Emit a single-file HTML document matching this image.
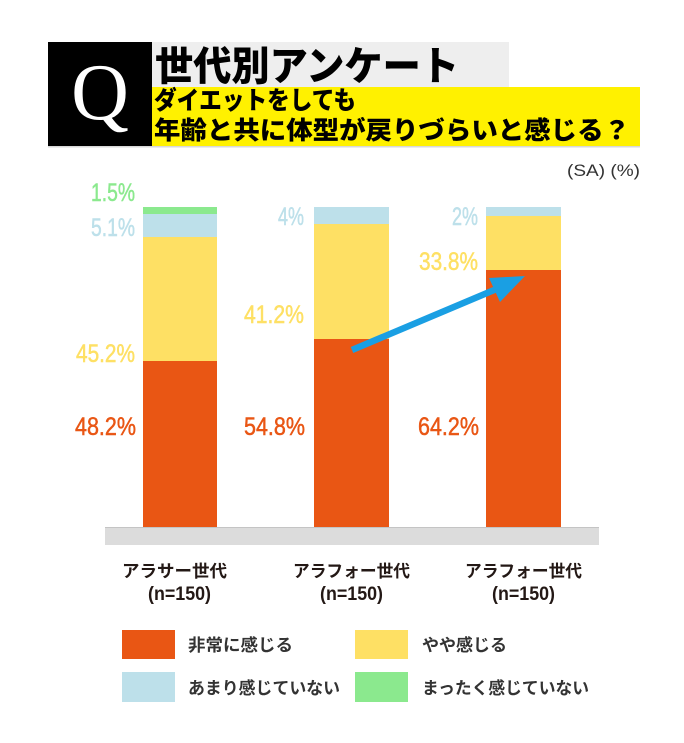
<!DOCTYPE html>
<html><head><meta charset="utf-8"><style>
html,body{margin:0;padding:0;background:#fff;}
svg{display:block;}
</style></head><body>
<svg width="684" height="743" viewBox="0 0 684 743" xmlns="http://www.w3.org/2000/svg">
<rect width="684" height="743" fill="#fff"/>
<!-- header -->
<rect x="48" y="42" width="104" height="104" fill="#000"/>
<rect x="152" y="42" width="357" height="45" fill="#eeeeee"/>
<rect x="152" y="87" width="488" height="59" fill="#fff100"/>
<rect x="48" y="146" width="592" height="1.5" fill="#d8d8d8"/>
<text x="100" y="119" text-anchor="middle" font-family="'Liberation Serif', serif" font-size="80" fill="#fff">Q</text>
<text x="155" y="80" font-family="'Liberation Sans','Noto Sans CJK JP',sans-serif" font-weight="900" font-size="40" fill="#000" textLength="304" lengthAdjust="spacingAndGlyphs">世代別アンケート</text>
<text x="154" y="109" font-family="'Liberation Sans','Noto Sans CJK JP',sans-serif" font-weight="900" font-size="25" fill="#000" textLength="202" lengthAdjust="spacingAndGlyphs">ダイエットをしても</text>
<text x="154" y="139" font-family="'Liberation Sans','Noto Sans CJK JP',sans-serif" font-weight="900" font-size="25" fill="#000" textLength="476" lengthAdjust="spacingAndGlyphs">年齢と共に体型が戻りづらいと感じる？</text>
<text x="567" y="176" font-family="'Liberation Sans',sans-serif" font-size="17" fill="#333" textLength="73" lengthAdjust="spacingAndGlyphs">(SA) (%)</text>

<!-- base -->
<rect x="105" y="527" width="494" height="18" fill="#dcdcdc"/>
<rect x="105" y="527" width="494" height="1" fill="#c4c4c4"/>

<!-- bar 1 -->
<rect x="143" y="207" width="74" height="7" fill="#8be98e"/>
<rect x="143" y="214" width="74" height="23" fill="#bde0ea"/>
<rect x="143" y="237" width="74" height="124" fill="#fee064"/>
<rect x="143" y="361" width="74" height="166" fill="#e95614"/>
<!-- bar 2 -->
<rect x="314" y="207" width="75" height="17" fill="#bde0ea"/>
<rect x="314" y="224" width="75" height="115" fill="#fee064"/>
<rect x="314" y="339" width="75" height="188" fill="#e95614"/>
<!-- bar 3 -->
<rect x="486" y="207" width="75" height="9" fill="#bde0ea"/>
<rect x="486" y="216" width="75" height="54" fill="#fee064"/>
<rect x="486" y="270" width="75" height="257" fill="#e95614"/>

<!-- value labels -->
<g font-family="'Liberation Sans',sans-serif" font-size="25" stroke-width="0.5">
<text x="91" y="201" fill="#8be98e" stroke="#8be98e" textLength="44" lengthAdjust="spacingAndGlyphs">1.5%</text>
<text x="91" y="236" fill="#bde0ea" stroke="#bde0ea" textLength="44" lengthAdjust="spacingAndGlyphs">5.1%</text>
<text x="76" y="362" fill="#fee064" stroke="#fee064" textLength="59" lengthAdjust="spacingAndGlyphs">45.2%</text>
<text x="75" y="435" fill="#e95614" stroke="#e95614" textLength="61" lengthAdjust="spacingAndGlyphs">48.2%</text>
<text x="278" y="225" fill="#bde0ea" stroke="#bde0ea" textLength="26" lengthAdjust="spacingAndGlyphs">4%</text>
<text x="244" y="323" fill="#fee064" stroke="#fee064" textLength="60" lengthAdjust="spacingAndGlyphs">41.2%</text>
<text x="244" y="435" fill="#e95614" stroke="#e95614" textLength="61" lengthAdjust="spacingAndGlyphs">54.8%</text>
<text x="452" y="225" fill="#bde0ea" stroke="#bde0ea" textLength="26" lengthAdjust="spacingAndGlyphs">2%</text>
<text x="419" y="270" fill="#fee064" stroke="#fee064" textLength="59" lengthAdjust="spacingAndGlyphs">33.8%</text>
<text x="418" y="435" fill="#e95614" stroke="#e95614" textLength="61" lengthAdjust="spacingAndGlyphs">64.2%</text>
</g>

<!-- arrow -->
<line x1="352" y1="350" x2="506" y2="285" stroke="#1a9fe3" stroke-width="6.5"/>
<polygon points="525,276 489,278 500,302" fill="#1a9fe3"/>

<!-- category labels -->
<g font-family="'Liberation Sans','Noto Sans CJK JP',sans-serif" font-weight="700" fill="#231815">
<text x="122" y="577" font-size="17" textLength="105" lengthAdjust="spacingAndGlyphs">アラサー世代</text>
<text x="148" y="600" font-size="19" textLength="63" lengthAdjust="spacingAndGlyphs">(n=150)</text>
<text x="293" y="577" font-size="17" textLength="117" lengthAdjust="spacingAndGlyphs">アラフォー世代</text>
<text x="320" y="600" font-size="19" textLength="63" lengthAdjust="spacingAndGlyphs">(n=150)</text>
<text x="465" y="577" font-size="17" textLength="117" lengthAdjust="spacingAndGlyphs">アラフォー世代</text>
<text x="492" y="600" font-size="19" textLength="63" lengthAdjust="spacingAndGlyphs">(n=150)</text>
</g>

<!-- legend -->
<rect x="122" y="630" width="53" height="29" fill="#e95614"/>
<rect x="355" y="630" width="53" height="29" fill="#fee064"/>
<rect x="122" y="672" width="53" height="30" fill="#bde0ea"/>
<rect x="355" y="672" width="53" height="30" fill="#8be98e"/>
<g font-family="'Liberation Sans','Noto Sans CJK JP',sans-serif" font-weight="700" font-size="17" fill="#333">
<text x="188" y="651" textLength="105" lengthAdjust="spacingAndGlyphs">非常に感じる</text>
<text x="422" y="651" textLength="85" lengthAdjust="spacingAndGlyphs">やや感じる</text>
<text x="188" y="694" textLength="152" lengthAdjust="spacingAndGlyphs">あまり感じていない</text>
<text x="422" y="694" textLength="167" lengthAdjust="spacingAndGlyphs">まったく感じていない</text>
</g>
</svg>
</body></html>
